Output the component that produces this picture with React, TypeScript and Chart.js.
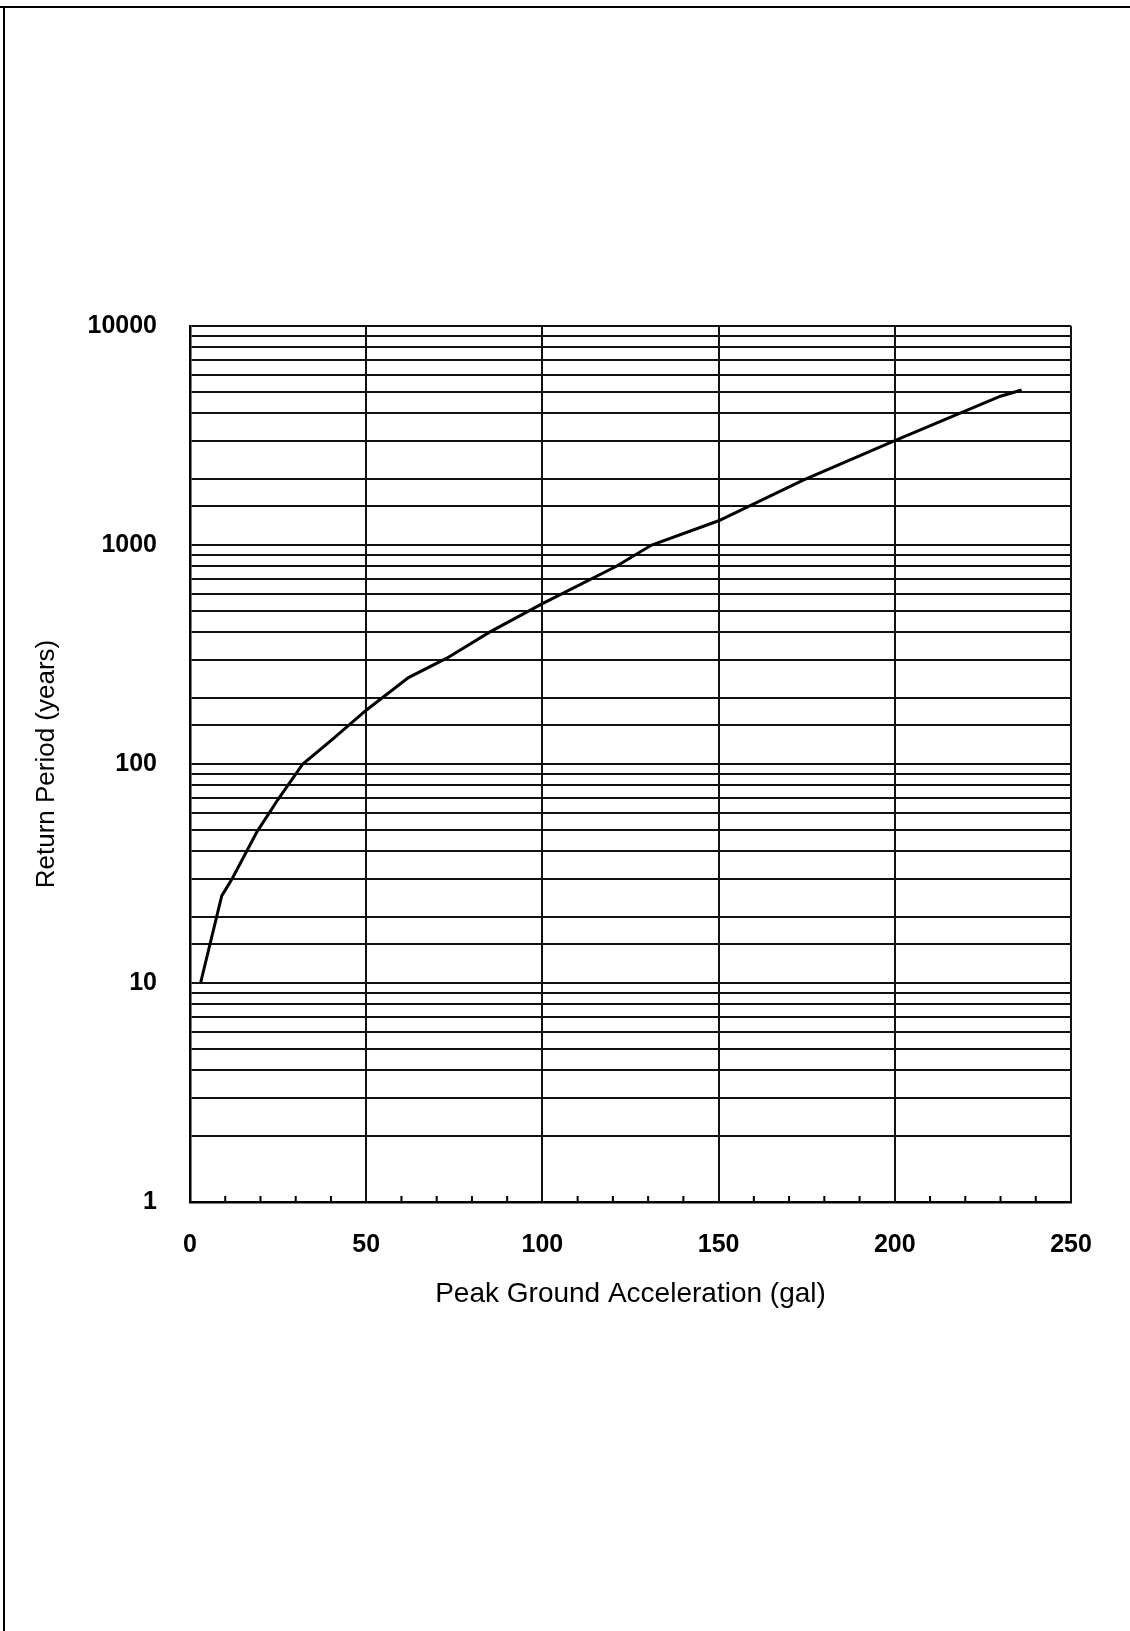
import React, { useEffect, useRef } from "react";
import { Chart, registerables } from "chart.js";

Chart.register(...registerables);

// Peak ground acceleration (gal)
const pgaValues = [3, 9, 12, 19, 25, 32, 40.5, 50, 62, 73, 85, 100, 121, 131, 150, 174, 200, 230, 236];
// Return period (years)
const returnPeriods = [10, 25, 30, 49, 69, 100, 130, 176, 248, 305, 400, 540, 800, 1000, 1290, 1980, 3000, 4780, 5100];

const yLabelValues = [1, 10, 100, 1000, 10000];
const xLabelStep = 50;
const xMinorStep = 10;

const xTitle = "Peak Ground Acceleration (gal)";
const yTitle = "Return Period (years)";

const W = 1130;
const H = 1631;

const pagePlugin = {
  id: "page",
  beforeDraw(chart: any) {
    const { ctx } = chart;
    ctx.save();
    ctx.fillStyle = "#ffffff";
    ctx.fillRect(0, 0, chart.width, chart.height);
    ctx.strokeStyle = "#000";
    ctx.lineWidth = 2;
    ctx.beginPath();
    ctx.moveTo(0, 7);
    ctx.lineTo(chart.width, 7);
    ctx.moveTo(4, 7);
    ctx.lineTo(4, chart.height);
    ctx.stroke();
    ctx.restore();
  },
  afterDatasetsDraw(chart: any) {
    const { ctx, scales, chartArea } = chart;
    const xs = scales.x;
    ctx.save();
    ctx.strokeStyle = "#000";
    ctx.lineWidth = 2;
    ctx.beginPath();
    for (const t of xs.ticks) {
      if (t.value % xLabelStep === 0) continue;
      const px = xs.getPixelForValue(t.value);
      ctx.moveTo(px, chartArea.bottom);
      ctx.lineTo(px, chartArea.bottom - 6);
    }
    ctx.stroke();
    ctx.restore();
  },
};

export default function App() {
  const ref = useRef<HTMLCanvasElement | null>(null);
  useEffect(() => {
    if (!ref.current) return;
    const chart = new Chart(ref.current, {
      type: "line",
      data: {
        datasets: [
          {
            data: pgaValues.map((x, i) => ({ x, y: returnPeriods[i] })),
            borderColor: "#000",
            borderWidth: 3,
            pointRadius: 0,
            tension: 0,
            fill: false,
          },
        ],
      },
      options: {
        responsive: false,
        animation: false,
        events: [],
        layout: { padding: { top: 326, right: 59, left: 0, bottom: 0 } },
        plugins: { legend: { display: false }, tooltip: { enabled: false } },
        scales: {
          x: {
            type: "linear",
            min: 0,
            max: 250,
            afterFit: (s: any) => {
              s.height = 429;
            },
            ticks: {
              stepSize: xMinorStep,
              autoSkip: false,
              maxRotation: 0,
              padding: 28,
              color: "#000",
              font: { family: "'Liberation Sans', Arial, sans-serif", size: 25, weight: "bold" },
              callback: (v: any) => (Number(v) % xLabelStep === 0 ? String(v) : ""),
            },
            grid: {
              drawTicks: false,
              color: (c: any) => (c.tick && c.tick.value % xLabelStep === 0 ? "#111" : "rgba(0,0,0,0)"),
              lineWidth: 2,
            },
            border: { display: true, color: "#000", width: 2.5 },
            title: {
              display: true,
              text: xTitle,
              color: "#000",
              font: { family: "'Liberation Sans', Arial, sans-serif", size: 28 },
              padding: { top: 0, bottom: 320 },
            },
          },
          y: {
            type: "logarithmic",
            min: 1,
            max: 10000,
            afterFit: (s: any) => {
              s.width = 190;
            },
            ticks: {
              autoSkip: false,
              padding: 33,
              color: "#000",
              font: { family: "'Liberation Sans', Arial, sans-serif", size: 25, weight: "bold" },
              callback: (v: any) => (yLabelValues.includes(Number(v)) ? String(v) : ""),
            },
            grid: { drawTicks: false, color: "#111", lineWidth: 2 },
            border: { display: true, color: "#000", width: 2.5 },
            title: {
              display: true,
              text: yTitle,
              color: "#000",
              font: { family: "'Liberation Sans', Arial, sans-serif", size: 26 },
              padding: { top: 31, bottom: 0 },
            },
          },
        },
      },
      plugins: [pagePlugin],
    } as any);
    return () => chart.destroy();
  }, []);
  return (
    <div style={{ position: "absolute", left: 0, top: 0, width: W, height: H }}>
      <canvas ref={ref} width={W} height={H} style={{ display: "block" }} />
    </div>
  );
}
